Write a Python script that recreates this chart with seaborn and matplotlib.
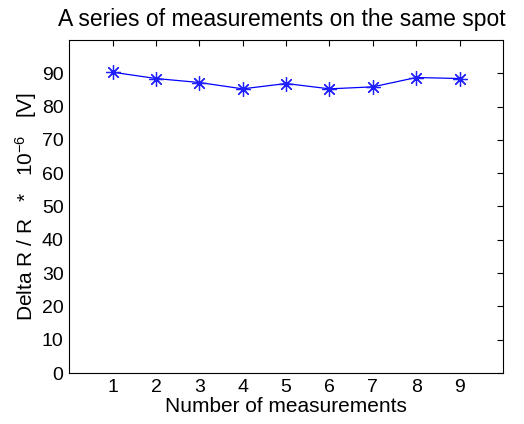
import matplotlib
matplotlib.use("Agg")
import matplotlib.pyplot as plt
import seaborn as sns
import pandas as pd

measurement = [1, 2, 3, 4, 5, 6, 7, 8, 9]
delta_r = [90.3, 88.4, 87.2, 85.3, 86.9, 85.3, 85.9, 88.7, 88.4]
x_ticks = [1, 2, 3, 4, 5, 6, 7, 8, 9]
y_ticks = [0, 10, 20, 30, 40, 50, 60, 70, 80, 90]

sns.set_style("white")
plt.rcParams['font.family'] = ['Liberation Sans', 'DejaVu Sans']
plt.rcParams['text.color'] = 'black'
plt.rcParams['axes.labelcolor'] = 'black'
plt.rcParams['mathtext.fontset'] = 'custom'
plt.rcParams['mathtext.rm'] = 'Liberation Sans'
plt.rcParams['mathtext.it'] = 'Liberation Sans'

df = pd.DataFrame({"n": measurement, "v": delta_r})

fig = plt.figure(figsize=(5.24, 4.24), dpi=100)
ax = fig.add_axes([0.132, 0.120, 0.828, 0.786])
sns.lineplot(data=df, x="n", y="v", ax=ax, color="#0000ff", linewidth=0.9,
             marker=(8, 2, 0), markersize=10.5, markeredgecolor="#2020ff",
             markeredgewidth=0.9)
ax.set_xlim(0, 10)
ax.set_ylim(0, 100)
ax.set_xticks(x_ticks)
ax.set_yticks(y_ticks)
ax.tick_params(direction="in", top=True, right=True, length=4, width=0.8,
               labelsize=14, colors="black", pad=4)
for s in ax.spines.values():
    s.set_color("black")
    s.set_linewidth(0.8)
ax.set_xlabel("Number of measurements", fontsize=15, labelpad=1)
ax.set_ylabel(r"Delta R / R   *   10$^{-6}$   [V]", fontsize=15, labelpad=2)
ax.set_title("A series of measurements on the same spot", fontsize=16.5, pad=10,
             x=0.49)

fig.savefig("out.png", dpi=100)
